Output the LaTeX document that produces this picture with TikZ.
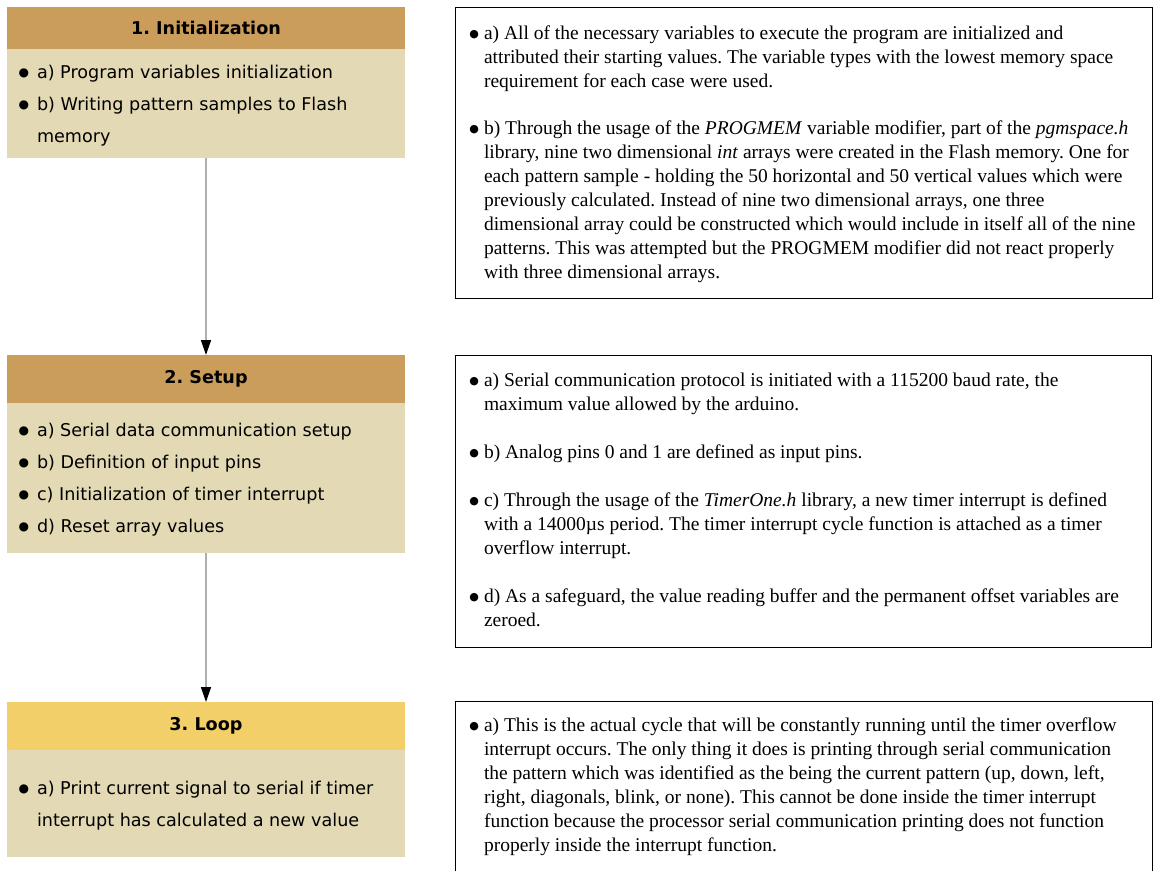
\documentclass[tikz,border=0pt]{standalone}
\usepackage{fontspec}
\setmainfont{Liberation Serif}
\newfontfamily\stepfont{DejaVu Sans}
\usetikzlibrary{positioning,arrows.meta}
\frenchspacing

\definecolor{headbrown}{RGB}{203,157,91}
\definecolor{headyellow}{RGB}{243,207,106}
\definecolor{bodytan}{RGB}{227,217,181}
\definecolor{linegray}{RGB}{175,175,175}

% hanging bullets for the item lists
\newcommand{\lbul}{\llap{\raisebox{2pt}{\stepfont\fontsize{12}{12}\selectfont ●}\hspace{8pt}}}
\newcommand{\rbul}{\llap{\raisebox{2pt}{\stepfont\fontsize{11}{11}\selectfont ●}\hspace{5pt}}}

\begin{document}
\begin{tikzpicture}[x=1pt,y=-1pt,
  every node/.style={inner sep=0pt,outer sep=0pt},
  head/.style={fill=headbrown,minimum width=398pt,minimum height=42pt,
    font=\stepfont\bfseries\fontsize{17.6}{20}\selectfont},
  body/.style={fill=bodytan,minimum width=398pt,below=0pt of #1},
  stepitems/.style={anchor=base west,align=left,
    font=\stepfont\fontsize{17.6}{32}\selectfont},
  notebox/.style={draw=black,line width=1pt,anchor=north west},
  notetext/.style={anchor=base west,align=left,
    font=\fontsize{19.5}{24}\selectfont},
  flow/.style={draw=linegray,line width=1.5pt,
    -{Triangle[length=15pt,width=10pt,color=black]}}]
\useasboundingbox (0,0) rectangle (1153,870);

% left column: the three program stages
% (item nodes sit on the baseline of their last line)
\node[head] (init) at (206,28) {1. Initialization};
\node[body=init,minimum height=109pt] (initbody) {};
\node[stepitems] (inititems) at (37,142)
  {\lbul a) Program variables initialization\\
   \lbul b) Writing pattern samples to Flash\\
   memory};

\node[head,minimum height=48pt] (setup) at (206,379) {2. Setup};
\node[body=setup,minimum height=150pt] (setupbody) {};
\node[stepitems] (setupitems) at (37,532)
  {\lbul a) Serial data communication setup\\
   \lbul b) Definition of input pins\\
   \lbul c) Initialization of timer interrupt\\
   \lbul d) Reset array values};

\node[head,fill=headyellow,minimum height=48pt] (loop) at (206,726) {3. Loop};
\node[body=loop,minimum height=107pt] (loopbody) {};
\node[stepitems] (loopitems) at (37,826)
  {\lbul a) Print current signal to serial if timer\\
   interrupt has calculated a new value};

\draw[flow] (initbody.south) -- (setup.north);
\draw[flow] (setupbody.south) -- (loop.north);

% right column: notes on each stage
\node[notebox,minimum width=697pt,minimum height=291pt] (initframe) at (455,7) {};
\node[notetext] (initnote) at (484,278)
  {\rbul a) All of the necessary variables to execute the program are initialized and\\
   attributed their starting values. The variable types with the lowest memory space\\
   requirement for each case were used.\\[23pt]
   \rbul b) Through the usage of the \textit{PROGMEM} variable modifier, part of the \textit{pgmspace.h}\\
   library, nine two dimensional \textit{int} arrays were created in the Flash memory. One for\\
   each pattern sample - holding the 50 horizontal and 50 vertical values which were\\
   previously calculated. Instead of nine two dimensional arrays, one three\\
   dimensional array could be constructed which would include in itself all of the nine\\
   patterns. This was attempted but the PROGMEM modifier did not react properly\\
   with three dimensional arrays.};

\node[notebox,minimum width=696pt,minimum height=292pt] (setupframe) at (455,355) {};
\node[notetext] (setupnote) at (484,626)
  {\rbul a) Serial communication protocol is initiated with a 115200 baud rate, the\\
   maximum value allowed by the arduino.\\[24pt]
   \rbul b) Analog pins 0 and 1 are defined as input pins.\\[24pt]
   \rbul c) Through the usage of the \textit{TimerOne.h} library, a new timer interrupt is defined\\
   with a 14000µs period. The timer interrupt cycle function is attached as a timer\\
   overflow interrupt.\\[24pt]
   \rbul d) As a safeguard, the value reading buffer and the permanent offset variables are\\
   zeroed.};

\node[notebox,minimum width=697pt,minimum height=190pt] (loopframe) at (455,701) {};
\node[notetext] (loopnote) at (484,851)
  {\rbul a) This is the actual cycle that will be constantly running until the timer overflow\\
   interrupt occurs. The only thing it does is printing through serial communication\\
   the pattern which was identified as the being the current pattern (up, down, left,\\
   right, diagonals, blink, or none). This cannot be done inside the timer interrupt\\
   function because the processor serial communication printing does not function\\
   properly inside the interrupt function.};
\end{tikzpicture}
\end{document}
